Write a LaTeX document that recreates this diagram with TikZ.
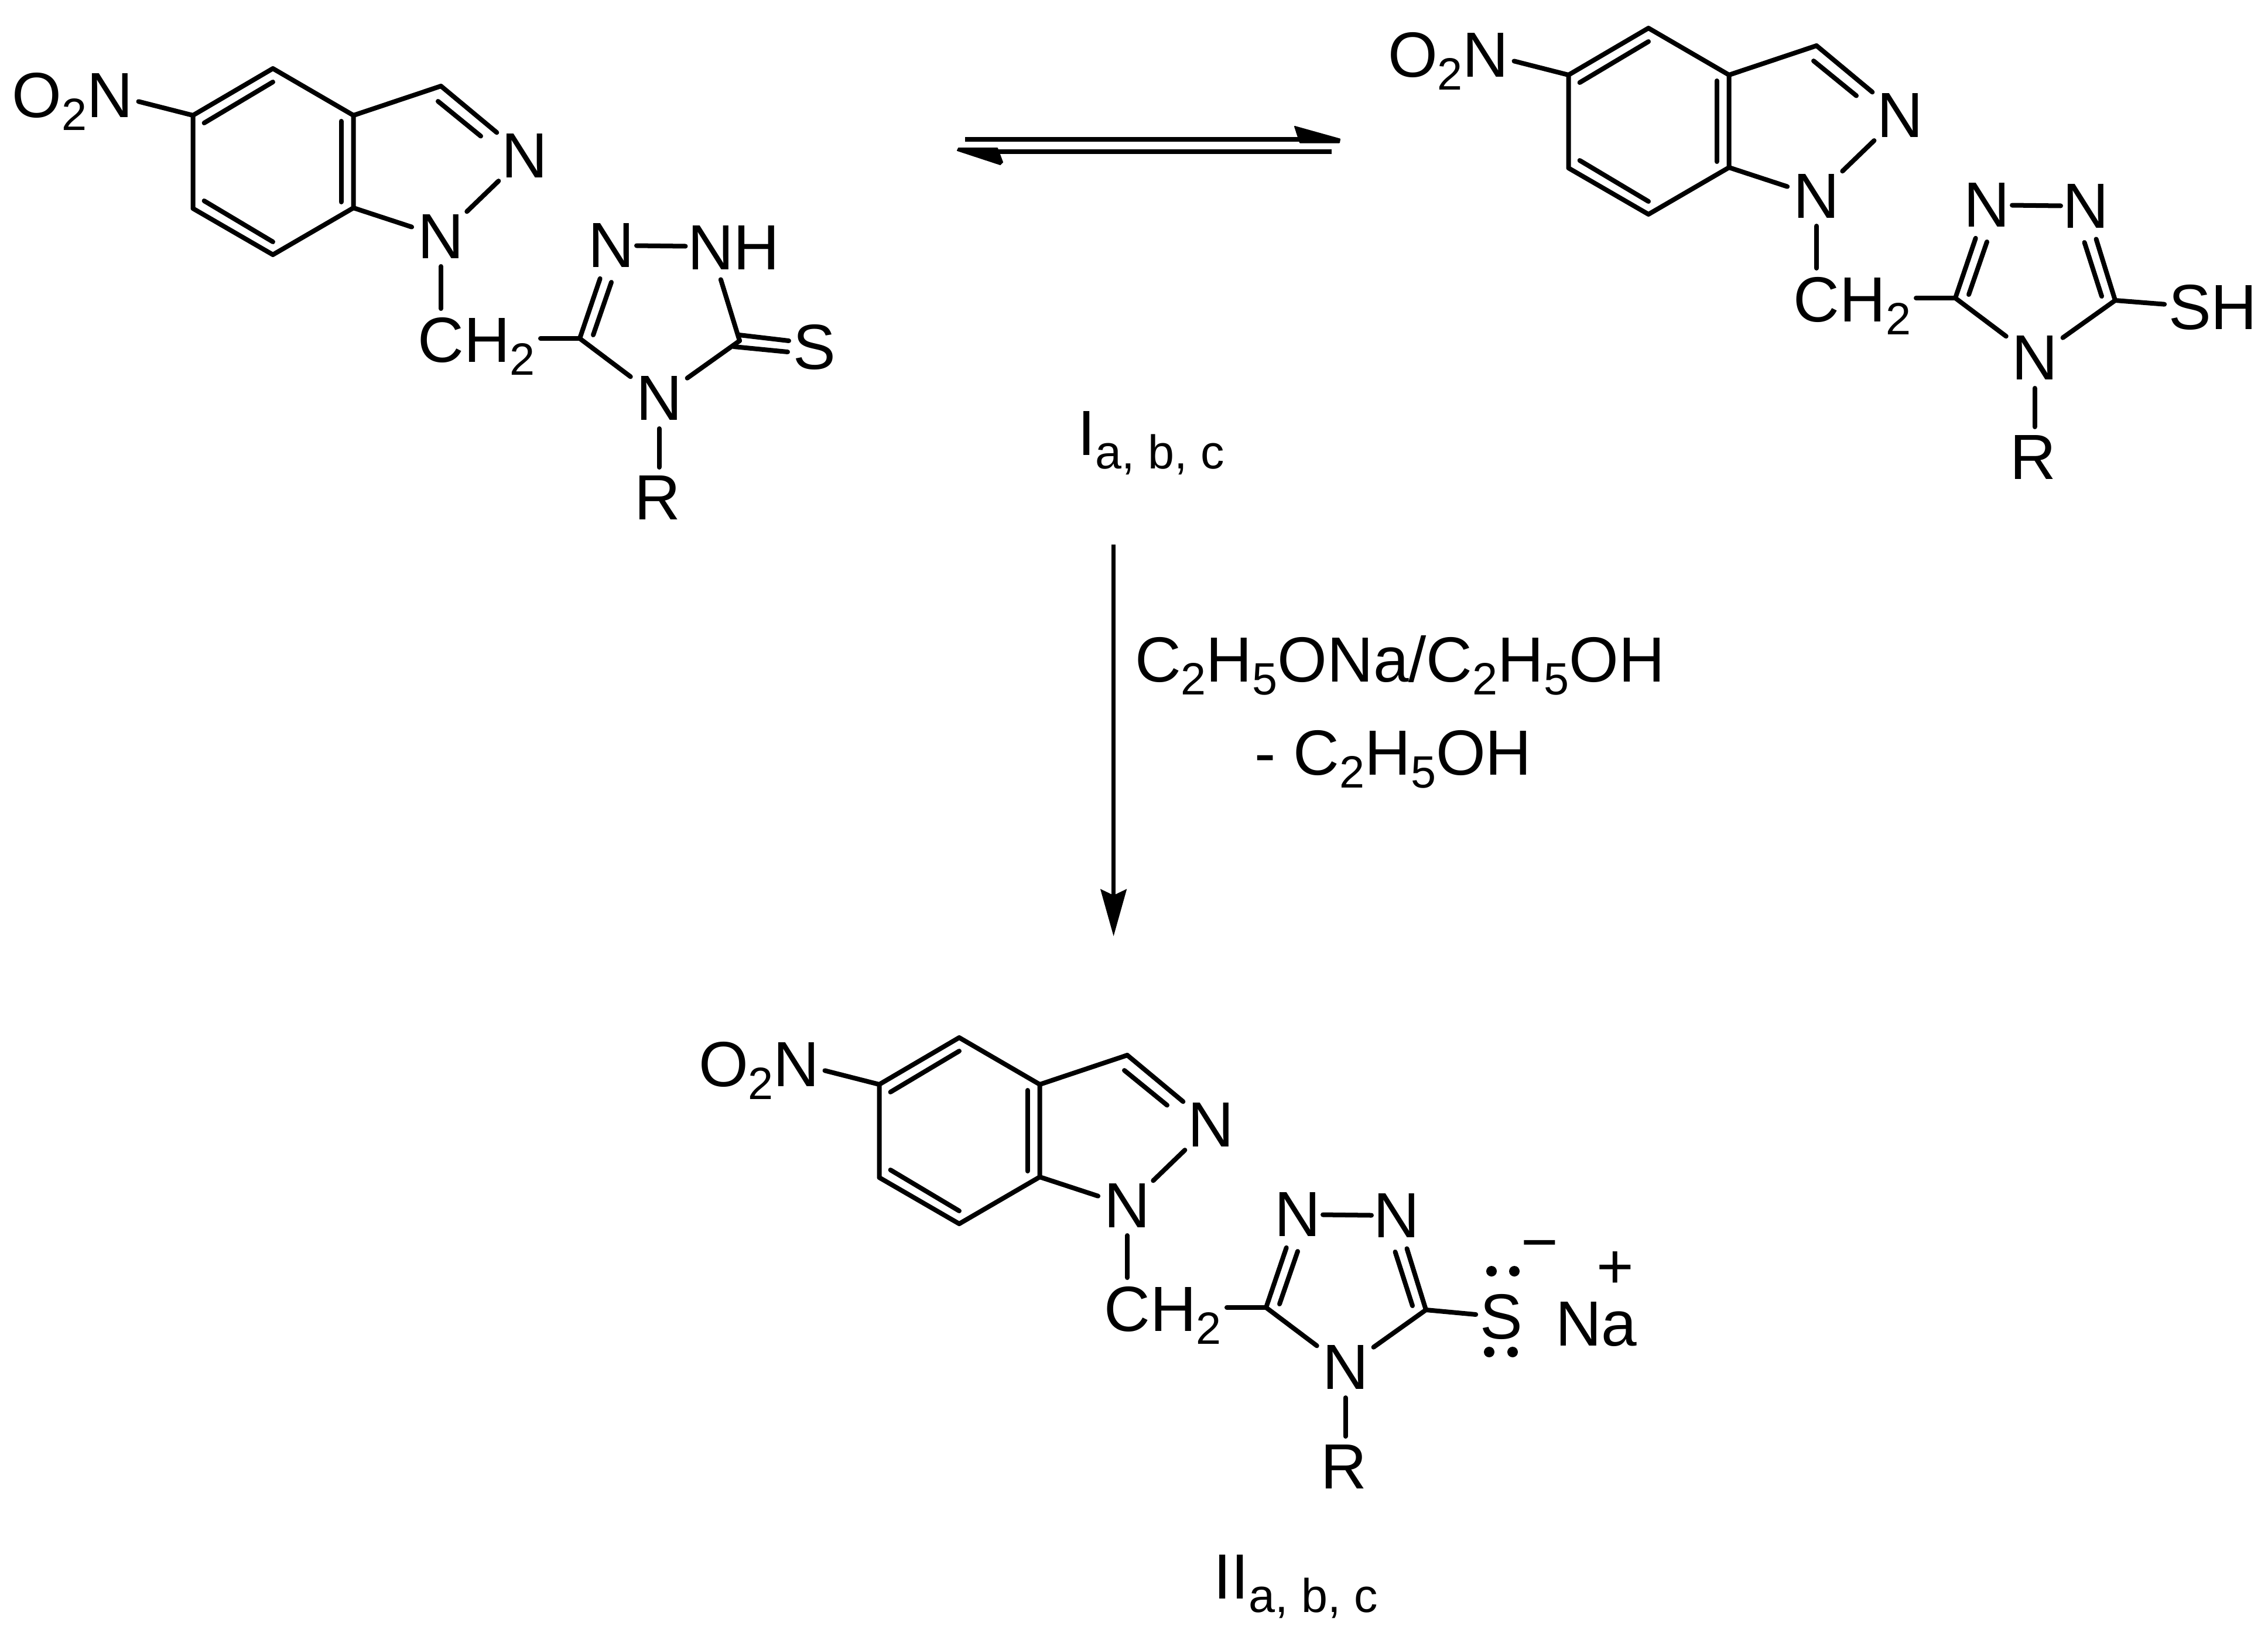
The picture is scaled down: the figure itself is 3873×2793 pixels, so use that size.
\documentclass[tikz,border=0pt]{standalone}
\usepackage{fontspec}
\setmainfont{Liberation Sans}
\usetikzlibrary{arrows.meta}
\newcommand\atomfont{\fontsize{31}{37}\selectfont}
\newcommand\sbs[1]{\raisebox{-0.22cm}{\fontsize{22}{26}\selectfont #1}}
\newcommand\lsb[1]{\raisebox{-0.23cm}{\fontsize{23}{27}\selectfont #1}}
\tikzset{
  bond/.style={line width=0.08cm,line cap=round,line join=round,black},
  atom/.style={inner sep=0pt,outer sep=0pt,font=\atomfont,text=black},
  basetext/.style={atom,anchor=base west},
  halfhead/.style={fill=black,draw=black,line width=0.02cm,line join=round},
  eqline/.style={line width=0.08cm,black},
  lone/.style={circle,fill=black,inner sep=0pt,minimum size=0.18cm},
}
% shared indazole + CH2 + triazole skeleton, local pixel coordinates
\newcommand\skeleton[1]{
  \coordinate (#1a) at (466,117);
  \coordinate (#1b) at (603.6,197);
  \coordinate (#1c) at (603.6,355);
  \coordinate (#1d) at (466,435);
  \coordinate (#1e) at (329.5,356);
  \coordinate (#1f) at (329.5,197);
  \coordinate (#1g) at (753,147);
  \coordinate (#1t) at (990,578);
  \coordinate (#1u) at (1263,582);
  \node[basetext] (#1no) at (21,200) {O\sbs{2}N};
  \path (#1no.base east) ++(-39.5,-39) coordinate (#1noN);
  \node[atom] (#1n2) at (896,266) {N};
  \node[atom] (#1n1) at (753,404) {N};
  \node[basetext] (#1ch) at (713.5,618) {CH\sbs{2}};
  \path (#1ch.base west) ++(39.5,-39) coordinate (#1chC);
  \path (#1ch.base east) ++(9,-40) coordinate (#1chR);
  \node[atom] (#1n3) at (1044,419) {N};
  \node[atom] (#1n4) at (1125.5,680) {N};
  \node[atom] (#1r) at (1122.6,850) {R};
  \draw[bond,shorten <=0.50cm] (#1noN) -- (#1f);
  \draw[bond] (#1f) -- (#1a) -- (#1b) -- (#1c) -- (#1d) -- (#1e) -- cycle;
  \draw[bond] (348.6,210) -- (466,140);
  \draw[bond] (582.6,207) -- (582.6,345);
  \draw[bond] (348.6,343) -- (466,413);
  \draw[bond] (#1b) -- (#1g);
  \draw[bond,shorten >=0.62cm] (#1g) -- (#1n2.center);
  \draw[bond] (748,173) -- (821,232.5);
  \draw[bond,shorten <=0.62cm,shorten >=0.615cm] (#1n2.center) -- (#1n1.center);
  \draw[bond,shorten >=0.525cm] (#1c) -- (#1n1.center);
  \draw[bond,shorten <=0.51cm,shorten >=0.52cm] (#1n1.center) -- (#1chC);
  \draw[bond] (#1chR) -- (#1t);
  \draw[bond,shorten >=0.60cm] (#1t) -- (#1n3.center);
  \draw[bond] (1013,572) -- (1044,482);
  \draw[bond,shorten >=0.61cm] (#1t) -- (#1n4.center);
  \draw[bond,shorten >=0.59cm] (#1u) -- (#1n4.center);
  \draw[bond,shorten <=0.52cm,shorten >=0.52cm] (#1n4.center) -- (#1n4.center |- #1r.center);
}
% the second ring nitrogen of the aromatic triazole forms
\newcommand\aromring[1]{
  \node[atom] (#1n5) at (1213,421) {N};
  \draw[bond,shorten <=0.43cm,shorten >=0.43cm] (#1n3.center) -- (#1n5.center);
  \draw[bond,shorten >=0.59cm] (#1u) -- (#1n5.center);
  \draw[bond] (1240,575) -- (1210.5,483);
}
\begin{document}
\begin{tikzpicture}[x=0.01cm,y=-0.01cm]
\useasboundingbox (0,0) rectangle (3873,2793);
\fill[white] (0,0) rectangle (3873,2793);

% molecule I (thione)
\begin{scope}
  \skeleton{A}
  \node[basetext] (Anh) at (1174,460) {NH};
  \path (Anh.base west) ++(39.5,-39) coordinate (AnhN);
  \node[atom] (As) at (1391,593) {S};
  \draw[bond,shorten <=0.43cm,shorten >=0.43cm] (An3.center) -- (AnhN);
  \draw[bond,shorten >=0.59cm] (Au) -- (AnhN);
  \draw[bond] (1262,572) -- (1347,582);
  \draw[bond] (1253,592) -- (1345,601);
\end{scope}

% molecule I (thiol)
\begin{scope}[shift={(2349,-69)}]
  \skeleton{B}
  \aromring{B}
  \node[basetext] (Bsh) at (1354,631) {SH};
  \path (Bsh.base west) ++(36,-39) coordinate (BshS);
  \draw[bond,shorten >=0.43cm] (Bu) -- (BshS);
\end{scope}

% molecule II (salt)
\begin{scope}[shift={(1172,1655)}]
  \skeleton{C}
  \aromring{C}
\end{scope}
\node[atom] (Cs) at (2564,2249) {S};
\draw[bond,shorten >=0.44cm] (Cu) -- (Cs.center);
\node[lone] (d1) at (2547,2171) {};
\node[lone] (d2) at (2586,2171) {};
\node[lone] (d3) at (2543,2309) {};
\node[lone] (d4) at (2583,2309) {};
\node[atom] (minus) at (2629,2138) {−};
\node[atom] (plus) at (2758,2169) {+};
\node[basetext] (na) at (2656,2298) {Na};

% equilibrium arrows
\coordinate (e1s) at (1648,237.5);
\coordinate (e1e) at (2220,237.5);
\coordinate (e2s) at (2274,259);
\coordinate (e2e) at (1703,259);
\draw[eqline] (e1s) -- (e1e);
\draw[eqline] (e2s) -- (e2e);
\filldraw[halfhead] (2211,216) -- (2288,237.5) -- (2287,243.5) -- (2220,243.5) -- cycle;
\filldraw[halfhead] (1703,253) -- (1637,253) -- (1635,257) -- (1708,281) -- (1712,277) -- cycle;

% reaction arrow
\coordinate (vs) at (1901.6,930);
\coordinate (ve) at (1901.6,1599);
\draw[line width=0.075cm,black,-{Stealth[length=0.8cm,width=0.44cm,inset=0.1cm]}] (vs) -- (ve);

% reagent and compound labels
\node[basetext] (r1) at (1938,1164) {C\sbs{2}H\sbs{5}ONa/C\sbs{2}H\sbs{5}OH};
\node[basetext] (r2) at (2142,1323) {- C\sbs{2}H\sbs{5}OH};
\node[basetext] (l1) at (1840,777) {I\lsb{a, b, c}};
\node[basetext] (l2) at (2072,2730) {II\lsb{a, b, c}};
\end{tikzpicture}
\end{document}
